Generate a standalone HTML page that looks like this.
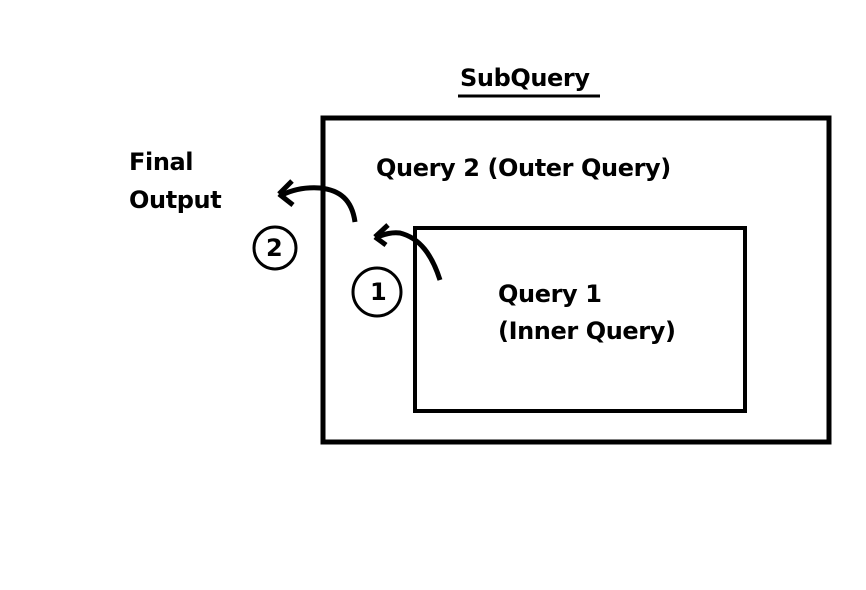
<!DOCTYPE html>
<html><head><style>
html,body{margin:0;padding:0;background:#fff;}
body{width:866px;height:590px;position:relative;overflow:hidden;font-family:"DejaVu Sans","Liberation Sans",sans-serif;font-weight:bold;color:#000;}
.t{position:absolute;font-size:24px;line-height:32px;white-space:nowrap;letter-spacing:-0.4px;}
</style></head><body>
<svg width="866" height="590" style="position:absolute;left:0;top:0">
<rect x="323" y="118" width="506" height="324" fill="none" stroke="#000" stroke-width="5"/>
<rect x="415" y="228" width="330" height="183" fill="none" stroke="#000" stroke-width="4"/>
<line x1="458" y1="96" x2="600" y2="96" stroke="#000" stroke-width="3"/>
<circle cx="275" cy="248" r="21" fill="none" stroke="#000" stroke-width="3"/>
<circle cx="377" cy="292" r="24" fill="none" stroke="#000" stroke-width="3"/>
<path d="M355 222 C352 200 340 190 320 188 C305 187 292 190 282 195" fill="none" stroke="#000" stroke-width="5"/>
<path d="M279 194 L292 181 M279 194 L293 205" fill="none" stroke="#000" stroke-width="5"/>
<path d="M440 280 C432 255 420 238 400 233 C392 232 385 234 377 237" fill="none" stroke="#000" stroke-width="5"/>
<path d="M375 237 L388 225 M375 237 L386 245" fill="none" stroke="#000" stroke-width="5"/>
</svg>
<div class="t" style="left:460px;top:62px">SubQuery</div>
<div class="t" style="left:129px;top:146px">Final</div>
<div class="t" style="left:129px;top:184px">Output</div>
<div class="t" style="left:376px;top:152px">Query 2 (Outer Query)</div>
<div class="t" style="left:498px;top:278px">Query 1</div>
<div class="t" style="left:498px;top:315px">(Inner Query)</div>
<div class="t" style="left:266px;top:232px">2</div>
<div class="t" style="left:370px;top:276px">1</div>
</body></html>
